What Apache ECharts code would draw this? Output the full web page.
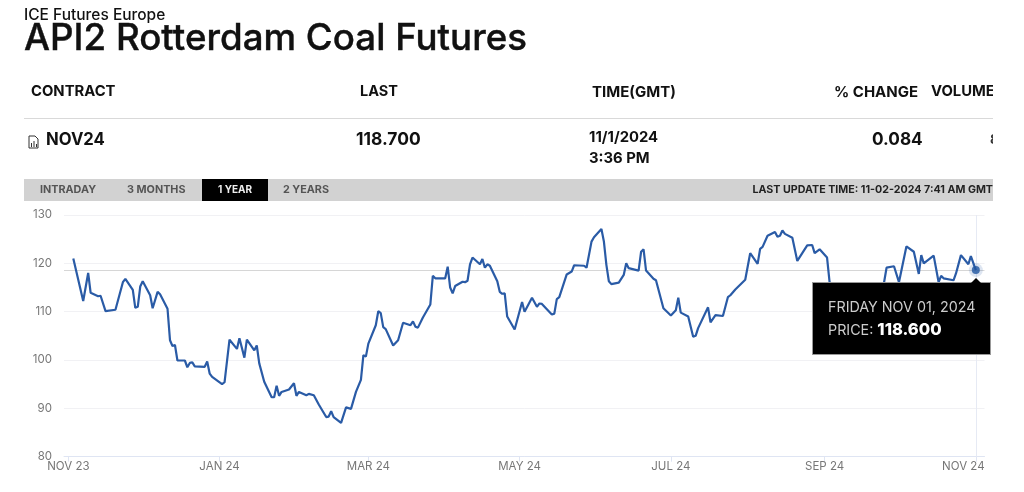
<!DOCTYPE html>
<html>
<head>
<meta charset="utf-8">
<title>API2 Rotterdam Coal Futures</title>
<script src="https://cdn.jsdelivr.net/npm/echarts@6/dist/echarts.min.js"></script>
<style>
  html, body { margin: 0; padding: 0; background: #fff; }
  #chart { width: 1024px; height: 492px; }
</style>
</head>
<body>
<div id="chart"></div>
<script>
const FONT = 'Inter, "Liberation Sans", Arial, sans-serif';
const LINE_COLOR = '#2a5ba6';

// one row per month
const priceDates = [
  '2023-11-03','2023-11-07','2023-11-09','2023-11-10','2023-11-13','2023-11-14','2023-11-16','2023-11-20','2023-11-23','2023-11-24','2023-11-27','2023-11-28','2023-11-29','2023-11-30',
  '2023-12-01','2023-12-04','2023-12-05','2023-12-07','2023-12-08','2023-12-11','2023-12-12','2023-12-13','2023-12-14','2023-12-15','2023-12-18','2023-12-19','2023-12-20','2023-12-21','2023-12-22','2023-12-26','2023-12-27','2023-12-28','2023-12-29',
  '2024-01-02','2024-01-03','2024-01-05','2024-01-08','2024-01-09','2024-01-11','2024-01-12','2024-01-15','2024-01-16','2024-01-17','2024-01-19','2024-01-22','2024-01-23','2024-01-24','2024-01-25','2024-01-26','2024-01-29','2024-01-31',
  '2024-02-01','2024-02-02','2024-02-05','2024-02-06','2024-02-08','2024-02-10','2024-02-13','2024-02-14','2024-02-15','2024-02-16','2024-02-19','2024-02-21','2024-02-23','2024-02-25','2024-02-27','2024-02-28','2024-02-29',
  '2024-03-01','2024-03-04','2024-03-05','2024-03-06','2024-03-07','2024-03-08','2024-03-11','2024-03-13','2024-03-15','2024-03-18','2024-03-19','2024-03-20','2024-03-21','2024-03-23','2024-03-26','2024-03-27','2024-03-28',
  '2024-04-01','2024-04-02','2024-04-03','2024-04-04','2024-04-05','2024-04-08','2024-04-09','2024-04-10','2024-04-11','2024-04-12','2024-04-15','2024-04-16','2024-04-17','2024-04-18','2024-04-19','2024-04-22','2024-04-23','2024-04-24','2024-04-25','2024-04-26','2024-04-29',
  '2024-05-02','2024-05-03','2024-05-06','2024-05-08','2024-05-09','2024-05-10','2024-05-14','2024-05-15','2024-05-16','2024-05-17','2024-05-20','2024-05-22','2024-05-23','2024-05-27','2024-05-28','2024-05-30','2024-05-31',
  '2024-06-03','2024-06-04','2024-06-05','2024-06-06','2024-06-07','2024-06-10','2024-06-12','2024-06-13','2024-06-14','2024-06-18','2024-06-19','2024-06-20','2024-06-21','2024-06-24','2024-06-25','2024-06-28',
  '2024-07-01','2024-07-03','2024-07-04','2024-07-05','2024-07-08','2024-07-10','2024-07-11','2024-07-12','2024-07-16','2024-07-17','2024-07-19','2024-07-22','2024-07-24','2024-07-25','2024-07-27','2024-07-31',
  '2024-08-02','2024-08-05','2024-08-06','2024-08-07','2024-08-09','2024-08-12','2024-08-13','2024-08-14','2024-08-15','2024-08-16','2024-08-19','2024-08-21','2024-08-23','2024-08-25','2024-08-27','2024-08-28','2024-08-30',
  '2024-09-02','2024-09-03','2024-09-06','2024-09-14','2024-09-21','2024-09-25','2024-09-26','2024-09-29',
  '2024-10-01','2024-10-04','2024-10-07','2024-10-09','2024-10-10','2024-10-11','2024-10-15','2024-10-17','2024-10-18','2024-10-19','2024-10-23','2024-10-24','2024-10-26','2024-10-29','2024-10-30',
  '2024-11-01'
];
const priceValues = [
  121,112.2,118,113.9,113.2,113.3,110.1,110.4,116.1,116.8,114.5,110.8,111,115.2,
  116.3,113.4,110.7,114.1,113.6,110.6,104.1,102.9,103.1,99.9,99.9,98.5,99.4,99.5,98.7,98.6,99.7,97.2,96.5,
  95,95.4,104.2,102.3,104.5,100.5,104.2,102,103,99.3,95.5,92.3,92.3,94.7,92.6,93.4,93.9,95.2,
  92.6,93.4,92.7,93,92.7,90.8,88.2,88.3,89.4,88.2,87,90.2,89.9,93.4,95.9,101,100.7,
  103.4,107.2,110.1,109.7,106.8,106.4,103,104.1,107.7,107.2,108,106.9,106.7,108.8,111.5,117.4,116.9,
  116.9,119.3,115,113.8,115.3,116.2,116.1,116.4,119.8,121.2,119.8,120.9,119.1,119.8,119.5,116.3,114.1,113.7,113.8,109,106.3,
  112,110,112.9,111,111.7,111.6,109.4,109.6,112.6,113,117.7,118.3,119.6,119.5,119.1,124.5,125.4,
  127.1,124.5,119.7,116.3,115.7,116,117.6,120,119,118.5,122.4,122.9,118.5,116.8,116.5,110.7,
  109.2,110.3,112.9,109.8,109,104.8,105,106.6,110.9,107.8,109.3,109.1,113,113.4,114.6,116.6,
  122.1,119.9,123,123.4,125.7,126.5,125.5,125.7,126.8,126.1,125.3,120.5,122.1,123.7,123.8,122.1,122.9,
  121.2,116.2,113,111,112,116.1,119.1,119.4,
  116.1,123.5,122.4,117.8,121.7,120,121.6,116.1,117.4,116.9,116.5,117.9,121.7,119.8,121.5,
  118.6
];
const tickDates = ['2023-11-01','2024-01-01','2024-03-01','2024-05-01','2024-07-01','2024-09-01','2024-11-01'];
const rangeTabs = ['INTRADAY', '3 MONTHS', '1 YEAR', '2 YEARS'];

const MONTHS = ['JAN','FEB','MAR','APR','MAY','JUN','JUL','AUG','SEP','OCT','NOV','DEC'];
const DAYS = ['SUNDAY','MONDAY','TUESDAY','WEDNESDAY','THURSDAY','FRIDAY','SATURDAY'];

function ts(d) {
  return echarts.time.parse(d).getTime();
}
function txt(x, y, text, size, opts) {
  return {
    type: 'text', x: x, y: y, silent: true, z: (opts && opts.z) || 10,
    style: Object.assign({
      text: text, fill: '#111', font: '700 ' + size + 'px ' + FONT,
      textVerticalAlign: 'middle', textBaseline: 'middle'
    }, opts || {})
  };
}
function box(x, y, w, h, fill, z) {
  return { type: 'rect', silent: true, z: z || 5, shape: { x: x, y: y, width: w, height: h }, style: { fill: fill } };
}

const pageParts = [
  txt(24, 15, 'ICE Futures Europe', 15.5, { font: '500 15.5px ' + FONT }),
  txt(24, 39, 'API2 Rotterdam Coal Futures', 36.7, { font: '500 36.7px ' + FONT, stroke: '#111', lineWidth: 0.4 }),

  txt(31, 92, 'CONTRACT', 14.8),
  txt(360, 92, 'LAST', 14.5),
  txt(592, 92, 'TIME(GMT)', 15),
  txt(834, 92, '% CHANGE', 15),
  txt(931, 92, 'VOLUME', 14.8),
  box(24, 118, 969, 1, '#d9d9d9'),

  // little chart-file icon in front of the contract
  { type: 'polyline', silent: true, z: 10, shape: { points: [[29, 136], [35, 136], [38, 139], [38, 148], [29, 148], [29, 136]] }, style: { fill: 'none', stroke: '#333', lineWidth: 1 } },
  box(31, 143, 1, 4, '#333', 11), box(33.5, 141, 1, 6, '#333', 11), box(36, 144, 1, 3, '#333', 11),

  txt(46, 140, 'NOV24', 16.7),
  txt(356, 140, '118.700', 17.4),
  txt(589, 138, '11/1/2024', 14.8),
  txt(589, 159, '3:36 PM', 14.8),
  txt(872, 140, '0.084', 17.2),
  txt(990, 140, '8', 13, { fill: '#333' }),
  box(993, 70, 31, 90, '#fff', 12),

  box(24, 179, 969, 22, '#d2d2d2'),
  box(202, 179, 66, 22, '#000', 6),
  txt(40, 190, rangeTabs[0], 10.8, { fill: '#555' }),
  txt(127, 190, rangeTabs[1], 10.8, { fill: '#555' }),
  txt(218, 190, rangeTabs[2], 10, { fill: '#eee' }),
  txt(283, 190, rangeTabs[3], 10.8, { fill: '#555' }),
  txt(993, 190, 'LAST UPDATE TIME: 11-02-2024 7:41 AM GMT', 10.7, { fill: '#222', textAlign: 'right' })
];

const chart = echarts.init(document.getElementById('chart'));
const lastIndex = priceDates.length - 1;
const tickValues = tickDates.map(ts);

chart.setOption({
  animation: false,
  backgroundColor: '#fff',
  textStyle: { fontFamily: FONT },
  grid: { left: 64, right: 39.5, top: 215, bottom: 35.3 },
  graphic: pageParts,
  xAxis: {
    // plain numeric axis over timestamps: the time axis can't take customValues
    type: 'value',
    min: ts('2023-10-30 06:00'),
    max: ts('2024-11-04 12:00'),
    splitLine: { show: false },
    axisLine: { lineStyle: { color: '#dfe5f3', width: 1 } },
    axisTick: { show: true, length: 5, lineStyle: { color: '#dfe5f3' }, customValues: tickValues },
    axisLabel: {
      color: '#777', fontSize: 11.5, margin: 4, hideOverlap: false,
      customValues: tickValues,
      formatter: function (v) {
        const d = new Date(v);
        const label = MONTHS[d.getMonth()] + ' ' + String(d.getFullYear()).slice(2);
        // the last label is pushed left so it stays inside the plot
        return v === tickValues[tickValues.length - 1] ? '{last|' + label + '}' : label;
      },
      rich: { last: { color: '#777', fontSize: 11.5, padding: [0, 25, 0, 0] } }
    },
    axisPointer: { show: true, snap: true, z: 1, label: { show: false }, lineStyle: { color: '#e6eaf4', width: 1, type: 'solid' } }
  },
  yAxis: {
    type: 'value',
    min: 80,
    max: 130,
    interval: 10,
    axisLine: { show: false },
    axisTick: { show: false },
    splitLine: { lineStyle: { color: '#f1f1f4', width: 1 } },
    axisLabel: { color: '#777', fontSize: 11.5, margin: 12 },
    axisPointer: { show: true, snap: true, z: 1, label: { show: false }, lineStyle: { color: '#d6d6d6', width: 1, type: 'solid' } }
  },
  tooltip: {
    trigger: 'axis',
    alwaysShowContent: true,
    backgroundColor: '#000',
    borderColor: '#999',
    borderWidth: 1,
    padding: 0,
    transitionDuration: 0,
    position: [812, 282],
    axisPointer: { type: 'cross', label: { show: false } },
    extraCssText: 'border-radius:0;box-shadow:none;width:179px;height:73px;box-sizing:border-box;',
    formatter: function (params) {
      const p = params[0];
      const d = new Date(p.value[0]);
      const dd = String(d.getDate()).padStart(2, '0');
      const label = DAYS[d.getDay()] + ' ' + MONTHS[d.getMonth()] + ' ' + dd + ', ' + d.getFullYear();
      return '<div style="position:absolute;left:158px;top:-5px;width:0;height:0;border-left:5px solid transparent;border-right:5px solid transparent;border-bottom:5px solid #000;"></div>' +
        '<div style="padding:13px 0 0 15px;font:14.3px/22px ' + FONT.replace(/"/g, "'") + ';color:#ccc;">' + label + '<br>PRICE: <b style="color:#fff;font-size:16.5px;font-weight:800;">' + p.value[1].toFixed(3) + '</b></div>';
    }
  },
  series: [
    {
      name: 'Price',
      type: 'line',
      data: priceDates.map((d, i) => [ts(d), priceValues[i]]),
      showSymbol: false,
      symbol: 'none',
      lineStyle: { color: LINE_COLOR, width: 2.2 },
      itemStyle: { color: LINE_COLOR },
      emphasis: { disabled: true }
    },
    {
      name: 'Halo',
      type: 'scatter',
      data: [[ts(priceDates[lastIndex]), priceValues[lastIndex]]],
      symbolSize: 14,
      z: 5,
      tooltip: { show: false },
      itemStyle: { color: 'rgba(42,91,166,0.2)' },
      emphasis: { disabled: true }
    },
    {
      name: 'Last',
      type: 'scatter',
      data: [[ts(priceDates[lastIndex]), priceValues[lastIndex]]],
      symbolSize: 8,
      z: 6,
      tooltip: { show: false },
      itemStyle: { color: '#1f55a0' },
      emphasis: { disabled: true }
    }
  ]
});
chart.dispatchAction({ type: 'showTip', seriesIndex: 0, dataIndex: lastIndex });
</script>
</body>
</html>
